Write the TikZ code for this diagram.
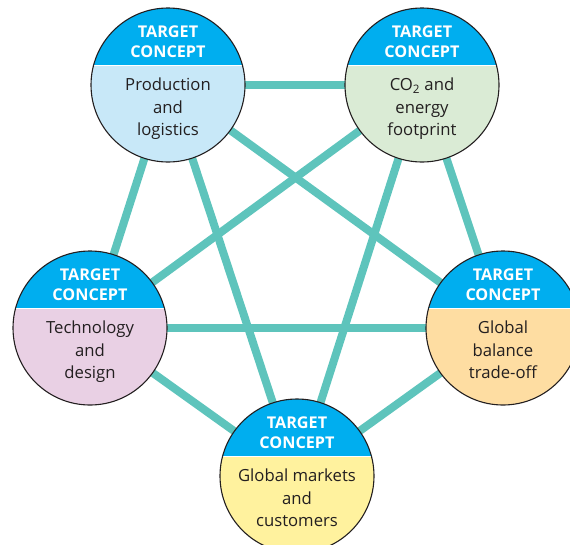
\documentclass[tikz,border=0pt]{standalone}
\usepackage{fontspec}
\setmainfont{Open Sans}
\usetikzlibrary{calc}
\definecolor{hdr}{HTML}{00AEEF}
\definecolor{linkc}{HTML}{5EC4BC}
\definecolor{fA}{HTML}{C8E8F8}
\definecolor{fB}{HTML}{DAEBD5}
\definecolor{fC}{HTML}{E9D0E4}
\definecolor{fD}{HTML}{FEDDA2}
\definecolor{fE}{HTML}{FFF29E}
\definecolor{ink}{HTML}{231F20}
\newcommand\conceptcircle[5]{%
  \node[conceptnode, fill=#2] (#1c) at (#1) {};
  \begin{scope}
    \clip (#1) circle[radius=77];
    \fill[hdr] ($(#1)+(-80,-80)$) rectangle ($(#1)+(80,-20)$);
  \end{scope}
  \draw[white, line width=1pt] ($(#1)+(-74.3,-20)$) -- ($(#1)+(74.3,-20)$);
  \draw[ink, line width=1.1pt] (#1) circle[radius=77];
  \node[hdrtext] (#1h1) at ($(#1)+(0,-48)$) {TARGET};
  \node[hdrtext] (#1h2) at ($(#1)+(0,-28)$) {CONCEPT};
  \node[bodytext] (#1b1) at ($(#1)+(0,5.5)$) {#3};
  \node[bodytext] (#1b2) at ($(#1)+(0,28)$) {#4};
  \node[bodytext] (#1b3) at ($(#1)+(0,50.5)$) {#5};
}
\begin{document}
\begin{tikzpicture}[x=1pt,y=-1pt,
  linkline/.style={draw=linkc, line width=8pt},
  conceptnode/.style={circle, minimum size=154pt, inner sep=0pt, draw=none},
  hdrtext/.style={text=white, font=\fontsize{16.2}{18}\selectfont\bfseries, anchor=base, inner sep=0pt},
  bodytext/.style={text=ink, font=\fontsize{16.7}{20}\selectfont, anchor=base, inner sep=0pt},
]
\useasboundingbox (0,0) rectangle (570,544);
\coordinate (A) at (168,85);
\coordinate (B) at (422,85);
\coordinate (C) at (90,328);
\coordinate (D) at (503,328);
\coordinate (E) at (297,476);
\foreach \p/\q in {A/B,A/C,A/D,A/E,B/C,B/D,B/E,C/D,C/E,D/E}
  \draw[linkline] (\p) -- (\q);
\conceptcircle{A}{fA}{Production}{and}{logistics}
\conceptcircle{B}{fB}{CO\textsubscript{2} and}{energy}{footprint}
\conceptcircle{C}{fC}{Technology}{and}{design}
\conceptcircle{D}{fD}{Global}{balance}{trade-off}
\conceptcircle{E}{fE}{Global markets}{and}{customers}
\end{tikzpicture}
\end{document}
